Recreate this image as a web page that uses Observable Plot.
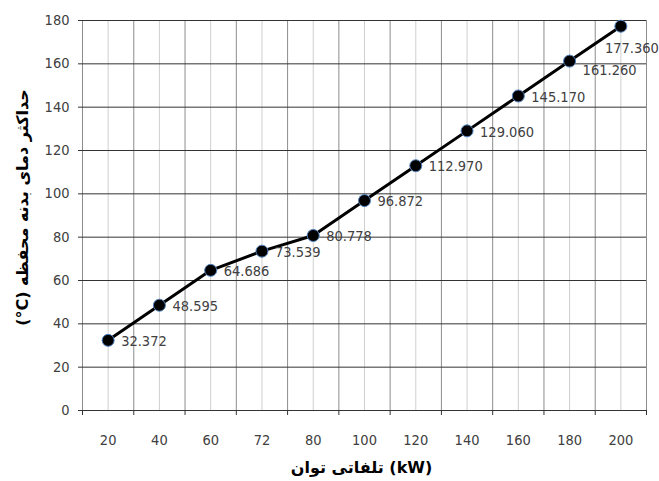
<!DOCTYPE html>
<html><head><meta charset="utf-8">
<script src="https://cdn.jsdelivr.net/npm/d3@7"></script>
<script src="https://cdn.jsdelivr.net/npm/@observablehq/plot@0.6"></script>
<style>body{margin:0;background:#fff}</style>
</head><body><div id="chart"></div>
<script>
const categories = ["20","40","60","72","80","100","120","140","160","180","200"];
const values = [32.372, 48.595, 64.686, 73.539, 80.778, 96.872, 112.970, 129.060, 145.170, 161.260, 177.360];
const valueLabels = ["32.372","48.595","64.686","73.539","80.778","96.872","112.970","129.060","145.170","161.260","177.360"];
const yTicks = [0, 20, 40, 60, 80, 100, 120, 140, 160, 180];
// word order chosen so the rendered line reads as in the reference
const xTitle = "تلفاتی توان (kW)";
const yTitle = "(°C) حداکثر دمای بدنه محفظه";

const rows = categories.map((c, i) => ({i, cat: c, v: values[i], label: valueLabels[i]}));
const centers = d3.range(categories.length);
const bounds = d3.range(categories.length + 1).map(i => i - 0.5);
const tickFont = '"DejaVu Sans Condensed","Liberation Sans Narrow",sans-serif';
const titleFont = '"DejaVu Sans",sans-serif';

const chart = Plot.plot({
  width: 659, height: 481,
  marginLeft: 82, marginRight: 13, marginTop: 20, marginBottom: 71,
  style: {fontFamily: tickFont, fontSize: "14.5px", color: "#404040", background: "#fff", overflow: "visible"},
  x: {type: "linear", domain: [-0.5, categories.length - 0.5]},
  y: {domain: [0, 180]},
  marks: [
    Plot.ruleX(centers, {stroke: "#cfcfcf", strokeWidth: 1}),
    Plot.ruleX(bounds, {stroke: "#8c8c8c", strokeWidth: 1}),
    Plot.ruleY(yTicks, {stroke: "#333", strokeWidth: 1}),
    Plot.axisY({ticks: yTicks, tickSize: 4, tickPadding: 9, label: null, stroke: "#333", fill: "#404040"}),
    Plot.axisX({ticks: bounds, tickSize: 5, tickFormat: () => "", label: null, stroke: "#333"}),
    Plot.axisX({ticks: centers, tickSize: 0, tickPadding: 24, tickFormat: i => categories[i], label: null, fill: "#404040"}),
    Plot.line(rows, {x: "i", y: "v", stroke: "#000", strokeWidth: 3}),
    Plot.dot(rows, {x: "i", y: "v", r: 6, fill: "#000", stroke: "#4f81bd", strokeWidth: 1}),
    Plot.text(rows.filter(d => d.i < 9), {x: "i", y: "v", text: "label", textAnchor: "start", dx: 13, dy: 1, fill: "#404040"}),
    Plot.text(rows.filter(d => d.i === 9), {x: "i", y: "v", text: "label", textAnchor: "start", dx: 13, dy: 9, fill: "#404040"}),
    Plot.text(rows.filter(d => d.i === 10), {x: "i", y: "v", text: "label", textAnchor: "middle", dx: 11, dy: 22, fill: "#404040"}),
    Plot.text([xTitle], {frameAnchor: "bottom", textAnchor: "middle", lineAnchor: "middle", dy: 57, dx: -3, fontFamily: titleFont, fontWeight: "bold", fontSize: 16, fill: "#000"}),
    Plot.text([yTitle], {frameAnchor: "left", textAnchor: "middle", lineAnchor: "middle", dx: -60, dy: -8, rotate: -90, fontFamily: titleFont, fontWeight: "bold", fontSize: 16, fill: "#000"})
  ]
});
document.getElementById("chart").appendChild(chart);
</script>
</body></html>
